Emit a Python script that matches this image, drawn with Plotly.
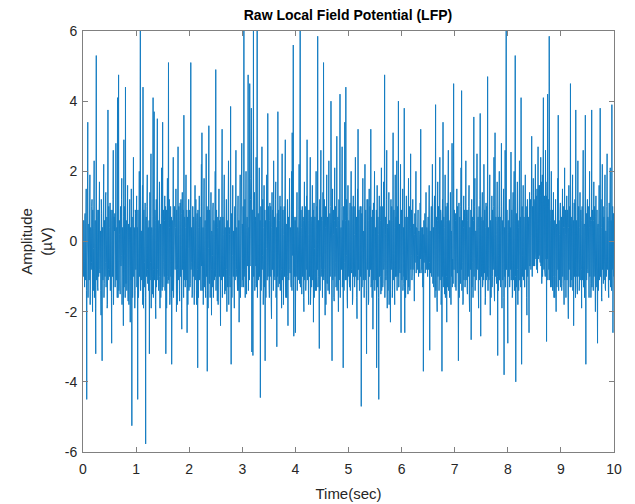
import plotly.graph_objects as go

fs = 200  # samples per second

amplitude_uV = [
    # 0 s
    .6,-1.0, -.9,.6, .2,-1.3, -1.3,.7, .8,-1.1, -.4,.4, 1.5,-1.4, -4.5,-.5, -.1,.9, 3.4,-1.6,
    -.8,.3, .5,-1.1, -.3,1.2, 1.9,-1.8, -1.1,.4, .3,-.8, -.6,1.0, 1.2,-.7, -2.0,.9, .4,-1.4,
    -.2,.7, 2.3,-1.6, -.7,.6, .6,-1.9, -3.2,.4, 5.3,-1.1, -1.0,.9, .1,-1.3, -1.4,.6, .9,-1.0,
    -.5,1.0, 1.7,-.8, -.9,.3, .3,-1.4, -2.1,1.2, .8,-1.8, -3.4,.4, .4,-1.1, -.2,.9, 2.2,-1.6,
    -1.2,.6, .2,-1.0, -.6,1.3, 1.4,-1.3, -.3,.3, .7,-1.9, -1.8,.7, 3.75,-1.1, -.8,1.0, .1,-.8,
    -1.0,.4, 1.1,-1.4, -.4,.9, .5,-1.6, -2.9,.6, .9,-1.0, -.7,1.2, 2.6,-1.8, -.2,.7, -1.3,.3,
    .8,-1.3, -.5,.7, 2.8,-1.1, -1.1,.4, .3,-1.6, 4.1,-.8, -1.6,1.0, 4.75,-1.4, -.9,.6, .2,-1.1,
    -1.5,.9, 1.0,-.7, -.4,1.2, 1.8,-1.8, -.9,.4, .1,-1.0, -2.4,.7, 2.9,-1.3, -.3,1.0, .6,-1.6,
    4.4,-.8, -1.2,.6, .3,-1.4, -.8,.9, 1.6,-1.1, -1.7,.3, .5,-1.8, -.2,1.0, 1.2,-1.0, -2.3,.4,
    .1,-1.1, 1.5,-.7, -5.25,.7, .4,-1.6, -.9,1.2, 2.4,-1.0, -.6,.4, .3,-1.9, -1.4,.9, .8,-.8,
    # 1 s
    -.3,.7, 1.3,-1.3, -.7,.4, -4.5,.9, .5,-1.6, -1.1,.6, 2.0,-1.0, -.4,1.0, 6.2,-1.4, -1.3,.3,
    .3,-1.1, -.8,.7, 1.6,-1.8, 4.4,-.7, -1.9,.9, .2,-1.3, -.6,.4, 1.1,-1.6, -5.77,.6, .7,-1.0,
    -.5,1.0, 1.9,-.8, -1.2,.3, .4,-1.4, -.2,.6, -3.2,.9, 1.4,-1.1, -.6,1.2, 2.5,-1.9, -1.0,.4,
    .2,-1.0, -1.5,.7, 4.1,-1.6, -.8,.6, 3.7,-1.1, -.3,.9, .6,-1.8, -2.2,.4, 1.2,-1.3, -.4,1.0,
    3.5,-.8, -1.1,.6, .3,-1.4, -.7,1.0, 1.7,-1.0, -1.9,.4, .5,-1.6, -.2,.7, 2.1,-1.1, -1.4,.3,
    3.4,-1.3, -.6,.9, .1,-.8, -1.0,.6, 1.3,-1.4, -.5,1.0, -3.2,.4, .9,-1.9, -.3,.7, 1.8,-1.0,
    -1.2,.6, 5.1,-1.1, -.7,1.2, .4,-1.8, -1.6,.3, 1.0,-1.0, -.4,.7, -3.5,.4, .6,-1.4, -.9,.9,
    2.4,-1.6, -.2,.6, -1.3,1.0, .7,-.8, -.6,.4, 1.5,-1.3, -2.0,.9, .3,-1.8, -.8,.7, 2.7,-1.1,
    -.5,1.0, .2,-1.4, -1.7,.6, 1.1,-1.0, -.3,1.2, .8,-1.9, -2.5,.4, 1.4,-.8, -.6,.9, .3,-1.6,
    3.6,-1.0, -1.1,.7, .5,-1.3, -.9,.4, 1.9,-1.1, -.4,.9, -2.6,.6, .7,-1.8, -.2,1.0, 1.2,-1.4,
    # 2 s
    -.4,.6, .9,-1.3, -1.2,.9, 5.1,-.8, -.6,.4, .2,-1.6, -1.5,1.0, 1.0,-1.0, -.3,.7, .5,-1.8,
    -1.0,.4, 1.6,-1.1, -.5,1.2, .3,-1.4, -1.8,.6, .8,-.8, -3.6,.9, .4,-1.6, -.2,.3, 1.3,-1.1,
    -.9,.7, .1,-1.0, -1.4,1.0, 2.2,-.7, 3.1,-1.4, -.7,.4, .4,-1.8, -1.1,.9, 1.8,-1.3, -.3,.6,
    .6,-1.4, -1.6,.4, 2.5,-1.0, -.5,1.0, -3.7,.7, .9,-1.9, -.2,.6, 3.3,-1.1, -1.2,.9, .4,-1.6,
    -.6,1.2, 1.4,-.8, -2.1,.3, .2,-1.3, -.4,.9, 1.1,-1.6, -1.3,.6, .5,-1.1, -.8,.7, 2.0,-1.0,
    4.9,-1.4, -.9,.9, .3,-.8, -1.7,.4, .7,-1.8, -.2,1.0, 1.5,-1.0, -1.0,.6, .1,-1.3, -2.4,.7,
    .6,-1.1, -.5,.4, 3.2,-1.6, -1.1,.7, .2,-1.0, -.7,1.2, 1.9,-.7, -1.5,.3, .4,-1.4, -.3,.9,
    1.2,-.8, -2.0,.6, .5,-1.3, -.6,1.0, 2.3,-1.8, -.9,.4, .2,-1.0, -1.3,.7, 3.85,-1.1, -3.5,.6,
    .8,-1.6, -.4,.9, 1.6,-.7, -1.0,.3, .3,-1.3, -1.9,.7, 1.0,-1.1, -.2,1.0, 2.6,-1.0, -.8,.4,
    .1,-1.1, -1.4,.7, 1.3,-1.4, -.5,.6, -2.3,.9, .7,-.8, 1.9,-1.6, -.6,.4, -1.0,1.0, 2.8,-1.3,
    # 3 s
    .5,-.8, -1.1,1.0, .3,-1.3, 6.2,-1.0, -.8,.6, 1.2,-1.6, -.4,.9, 2.0,-1.1, -1.5,.4, .7,-.7,
    -.2,.7, 4.75,-1.4, -1.0,.4, .4,-1.1, 4.5,-.7, -.6,1.2, 1.8,-1.6, 3.8,-.8, -3.15,.9, .9,-1.1,
    -3.25,.6, 6.1,-1.0, -.5,1.0, 1.4,-1.4, -1.2,.7, .6,-.7, 2.4,-1.3, -.3,.9, 6.2,-1.6, -1.4,.4,
    .8,-1.1, -.7,.7, 2.1,-1.0, -.2,.6, -4.45,.3, 1.0,-1.4, -.9,1.0, 2.7,-.8, -.4,1.2, .3,-1.8,
    -1.3,.4, 1.6,-1.3, -.6,.9, -3.4,.6, .5,-1.6, -.2,.7, 1.9,-1.1, -1.1,.3, 3.65,-1.0, -.5,1.0,
    .2,-1.3, -1.6,.6, 1.1,-1.0, -.4,1.0, .6,-1.8, -2.2,.4, 1.4,-.8, -.8,.9, .3,-1.4, 2.3,-.7,
    -1.0,.7, .5,-1.1, -.3,1.2, 1.7,-1.6, -1.4,.4, -3.0,.6, .8,-1.0, 3.7,-1.3, -.6,.9, .1,-.8,
    -1.2,.6, 1.3,-1.4, -.5,1.0, .4,-.8, -1.9,.3, 2.5,-1.1, -.7,.9, .2,-1.8, -1.1,.7, 1.0,-1.0,
    -.3,.9, 2.9,-1.3, -1.6,.4, .5,-1.6, -.2,.7, 1.2,-1.0, -2.4,.6, .7,-1.1, -.5,1.2, 1.8,-.8,
    -.9,.4, .3,-1.1, -1.3,.9, 2.0,-1.4, 3.1,-.7, -.4,1.0, 5.6,-1.3, -2.7,.7, .6,-1.0, -.8,.6,
    # 4 s
    -2.6,.7, .7,-1.0, -.3,1.0, 1.4,-1.4, -1.0,.4, .2,-1.1, -.6,.9, 2.2,-.8, -1.2,.6, 6.2,-1.3,
    -.9,.9, .4,-1.3, -1.5,.3, 1.0,-1.0, -.2,.7, .6,-1.6, -2.0,.6, 1.7,-1.1, -.5,1.0, .3,-1.4,
    -1.1,.4, 1.3,-.8, 2.9,-1.1, -.7,.9, .2,-1.4, -1.8,.6, .9,-1.0, -.4,1.2, 2.4,-1.8, -1.3,.7,
    .5,-1.3, -.3,.6, 1.6,-1.1, -.9,.9, -2.3,.4, 1.1,-1.6, -.2,.7, .7,-1.0, -1.4,.3, 2.0,-1.4,
    -.6,1.0, .3,-.8, 5.85,-1.3, -1.0,.6, .4,-1.1, -3.05,.9, 1.2,-1.4, -.5,.4, 2.6,-1.0, -.8,.7,
    .2,-1.6, -1.6,.6, 1.4,-1.0, 5.1,-1.1, -.7,1.2, .3,-.8, -2.1,.4, 1.0,-1.8, -.4,.9, 1.9,-1.1,
    -1.2,.7, .6,-1.4, -.3,.9, 2.3,-1.3, -1.5,.3, .8,-1.0, -.2,1.0, 4.0,-.7, -.9,.4, -3.4,.7,
    1.5,-1.1, -.4,.9, .2,-1.6, -1.7,.6, 2.1,-1.0, -.6,1.0, .5,-1.3, -1.1,.4, 3.0,-1.4, -.3,.7,
    .7,-1.0, -2.0,.6, 1.2,-1.1, -.5,1.2, 4.2,-1.6, -1.3,.3, .4,-.8, -.8,1.0, 2.7,-1.3, -.2,.6,
    -3.6,.4, 1.0,-1.4, -.6,.9, 3.4,-.8, -1.1,.6, 4.4,-1.1, -.4,1.2, .3,-1.6, -1.9,.7, 1.6,-1.0,
    # 5 s
    -.7,.6, .4,-1.1, -1.3,.9, 1.1,-1.4, -.2,.4, 2.0,-.8, -.9,1.0, .5,-1.8, -1.6,.3, 1.3,-1.0,
    -.4,1.0, .2,-1.3, -1.0,.6, 2.4,-1.0, -.6,.7, .7,-1.6, -2.2,.4, 1.5,-1.1, 3.2,-.8, -.8,.9,
    .3,-1.4, -1.4,.7, 1.0,-1.0, -.3,1.0, -4.7,.4, .8,-1.3, -.5,.9, 1.8,-.7, -1.1,.3, .2,-1.6,
    -.6,.7, 2.2,-1.1, -.9,.9, .4,-1.4, -3.2,.6, 1.2,-.8, -.3,1.2, .6,-1.8, -1.7,.4, 1.5,-1.0,
    -.5,1.0, .3,-.8, 3.2,-1.3, -1.2,.6, .7,-1.6, -.2,.9, -2.5,.3, 1.1,-1.1, -.7,.7, 2.0,-1.4,
    -1.0,.4, .4,-1.1, -.3,.9, -3.6,.6, 1.6,-1.3, -.5,.7, .2,-1.6, -4.5,.3, 1.3,-1.0, -.8,1.0,
    .6,-1.0, -1.5,.6, 2.1,-1.4, -.4,1.0, .3,-1.3, -1.2,.4, 1.7,-.8, -.6,.9, 4.75,-1.6, -1.0,.7,
    .2,-1.1, -.8,1.2, 2.6,-1.0, -1.9,.4, .5,-1.4, -.3,.7, 1.4,-1.8, -1.1,.6, .4,-1.1, -2.3,.9,
    1.2,-.8, -.5,1.0, .7,-1.6, -1.4,.6, 3.1,-1.1, -.7,.9, .3,-1.3, -1.8,.4, 1.9,-1.0, -.2,.7,
    -1.0,.6, 2.3,-1.4, -.6,1.0, .4,-1.0, 4.0,-1.3, -1.3,.4, .5,-.8, -.9,.9, 2.2,-1.1, -2.6,.6,
    # 6 s
    .9,-1.1, -.4,.9, 1.5,-1.4, -1.2,.4, .3,-1.0, 3.8,-1.3, -2.6,.7, .6,-1.6, -.3,.6, 1.3,-1.1,
    -.8,.7, .2,-1.0, -1.5,.6, 1.8,-1.3, -.5,1.0, .7,-1.4, -1.1,.4, 2.5,-.8, -.4,.9, .1,-1.1,
    -.9,.3, 1.2,-.8, -.3,.5, .5,-1.0, -1.7,.2, .8,-.6, -.2,.7, 2.0,-.9, -.6,.4, .3,-.8,
    -.4,.4, .9,-.8, -1.0,.3, .2,-.9, -.5,.5, 1.1,-.5, 3.2,-.9, -.7,.3, .4,-.8, -.2,.4,
    -1.3,.2, -3.7,.4, .6,-.6, -.3,.5, .8,-.9, -.6,.3, 1.4,-.8, -.4,.4, .2,-.9, -1.0,.3,
    .7,-.8, -.2,.4, 1.6,-.6, -3.1,.3, .3,-.9, -.8,.5, 1.0,-1.0, -.5,.7, 2.2,-.9, -1.2,.4,
    .4,-1.3, -.3,.9, 1.3,-1.1, -1.6,.4, 3.9,-1.4, -.7,.7, .5,-1.6, -2.0,.6, 1.7,-1.0, -.4,1.0,
    .2,-1.4, -1.1,.7, 2.4,-1.1, -.6,.9, .8,-1.8, -1.4,.6, -3.7,.4, 1.2,-1.0, 3.4,-1.3, -.9,.7,
    .3,-1.1, -1.5,.4, 1.9,-1.6, -.4,1.0, .6,-1.0, -2.3,.6, 1.1,-1.3, -.2,.9, 2.6,-1.4, -1.0,.6,
    .5,-1.6, -.7,.7, 1.4,-1.1, -1.8,.3, .2,-1.0, 2.8,-1.3, -.5,1.0, -1.2,.6, 4.5,-.8, -.8,.9,
    # 7 s
    .4,-1.1, -1.3,.6, .8,-1.4, -.2,.9, 1.5,-.8, -.9,1.0, .3,-1.3, -3.4,.4, 1.1,-1.6, -.5,.7,
    .2,-1.0, -1.2,1.0, 2.1,-.8, 4.3,-1.4, -.6,.6, .5,-1.8, -1.7,.4, 1.3,-1.1, -.3,.9, .7,-1.3,
    -1.0,.7, 2.3,-1.1, -.4,.9, .1,-1.4, -1.5,.6, .9,-1.0, -.7,1.0, 1.6,-1.6, -2.0,.4, .4,-.8,
    -.3,.9, -2.8,.4, 1.2,-1.3, -.6,.7, .5,-1.6, -1.1,.6, 3.55,-1.0, -.4,1.0, 1.8,-1.4, -1.3,.3,
    .3,-1.1, -.8,.9, 2.5,-.8, -.2,.6, .7,-1.4, -1.9,.4, 1.0,-1.1, -.5,1.2, 3.65,-1.6, -2.7,.7,
    .6,-1.0, -.3,.7, 1.4,-1.3, -1.2,.6, .2,-1.1, 2.2,-.8, -.9,.9, .4,-1.8, -1.6,.4, 1.1,-1.1,
    -.4,1.0, .8,-1.0, 4.7,-1.4, -1.4,.4, .3,-1.1, -.7,.9, 1.9,-.8, -2.1,.6, .5,-1.6, -.2,.7,
    1.3,-1.3, -1.0,.9, .6,-.8, -.5,1.0, 2.4,-1.4, -1.7,.3, 3.1,-1.0, -.3,.7, .2,-1.1, -1.2,.6,
    1.7,-1.0, -3.25,.4, .7,-1.4, -.4,.9, 2.0,-1.1, -1.1,.7, .3,-1.3, -.6,1.0, 2.8,-.8, -1.9,.6,
    .5,-1.1, -.8,.7, 1.5,-1.6, -3.8,.3, .4,-1.0, 2.6,-1.3, -1.3,.6, 6.2,-.8, -.7,.9, .2,-1.4,
    # 8 s
    -2.9,.6, .6,-1.0, -.4,1.0, 1.2,-1.3, -1.0,.4, .3,-.8, 2.55,-1.1, -.7,.9, .5,-1.6, -1.5,.7,
    1.4,-1.1, -.3,.9, 2.0,-1.4, -1.2,.6, 5.3,-1.0, -4.0,.4, .8,-1.3, -.5,1.0, 1.7,-.8, -1.8,.6,
    .4,-1.4, -.2,.9, 2.3,-1.1, -1.1,.7, .6,-1.3, 4.1,-.7, -3.5,.4, 1.0,-1.0, -.4,1.2, 1.6,-1.1,
    -.8,.7, .3,-1.3, -1.3,.9, 1.9,-.8, -.5,1.0, .7,-1.6, -2.1,.6, 1.2,-1.0, -.2,.7, .5,-1.1,
    -2.6,.9, 1.4,-.7, -.6,1.2, .9,-.8, -.3,1.3, 3.0,-.5, -1.0,1.0, .4,-.7, 1.8,-.3, -.7,1.2,
    1.1,-.7, -.2,1.4, 2.2,-.3, -.5,1.3, .8,-.8, 1.5,.4, -.9,1.2, 2.7,-.5, .2,1.6, -.4,.9,
    1.6,-.5, -.6,1.3, 2.4,-.7, .3,1.7, -1.2,.7, 1.9,-1.0, -.1,1.4, 4.1,-.5, -.8,1.0, 1.3,-.8,
    .4,-1.0, 2.6,.3, -.5,1.3, -2.85,.6, 1.7,-.5, 4.2,-1.1, -.3,1.2, 1.0,-.8, 5.85,-.7, -1.1,.9,
    .6,-1.3, -.4,.7, 2.0,-1.1, -1.3,.4, .9,-1.4, -.2,.9, 1.4,-1.0, -1.6,.6, .3,-1.6, -.7,.7,
    1.2,-1.0, -2.0,.4, .5,-1.3, -.3,1.0, 1.8,-.8, 3.6,-1.4, -1.4,.6, .2,-1.1, -.9,.9, 1.1,-1.3,
    # 9 s
    -.5,.7, .7,-1.4, -1.2,.6, 1.5,-1.0, -.3,1.0, .4,-1.3, -1.8,.4, 2.1,-1.1, -.6,.9, .2,-1.6,
    -1.0,.6, 1.3,-1.1, -.4,.9, .8,-1.6, -2.2,.4, 1.6,-.8, -.2,1.0, .5,-1.3, 4.5,-1.0, -1.3,.7,
    .3,-1.1, -.7,.9, 1.9,-1.4, -.5,.6, -2.4,.3, 1.1,-1.0, -.3,1.2, .6,-1.6, 3.75,-.8, -1.0,.6,
    .4,-1.3, -1.5,.7, 2.3,-1.0, -.2,1.0, .7,-1.4, -1.1,.4, 1.4,-1.1, -.6,.9, .2,-.8, -1.9,.6,
    1.0,-1.1, -.4,.9, 2.6,-1.3, -1.3,.4, .5,-1.6, -.8,.7, 3.6,-1.0, -3.5,.6, .8,-1.1, -.3,.9,
    1.2,-.8, -.9,1.0, .4,-1.4, -1.6,.4, 2.0,-1.0, -.2,.7, .6,-1.6, -1.2,.6, 3.75,-1.3, -.5,.9,
    .3,-1.1, -1.4,.6, 1.7,-1.0, -.7,1.0, .2,-1.4, -2.0,.7, 1.3,-1.3, -.4,.9, .9,-1.1, -2.9,.4,
    .5,-1.4, -.3,.7, 1.6,-1.1, -1.0,.6, 3.8,-1.0, -.6,1.2, .4,-1.6, -1.7,.4, 2.2,-.8, -.2,1.0,
    -1.2,.6, .7,-1.1, -.5,.9, 1.9,-1.3, -1.4,.3, .3,-1.0, -.8,1.0, 2.5,-.8, -.3,.7, .6,-1.4,
    -1.6,.4, 1.1,-1.1, -.4,.9, 2.1,-1.3, -1.0,.6, .5,-1.4, 3.9,-.8, -.7,1.0, -2.6,.6, .8,-1.0,
]

time_sec = [i / fs for i in range(len(amplitude_uV))]

x_ticks = list(range(0, 11))
y_ticks = [-6, -4, -2, 0, 2, 4, 6]

title_text = "Raw Local Field Potential (LFP)"
x_label = "Time(sec)"
y_label = "Amplitude<br>(µV)"

axis_color = "#262626"
frame_color = "#808080"
font_family = "Liberation Sans, Arial, Helvetica, sans-serif"

fig = go.Figure()
fig.add_trace(go.Scatter(
    x=time_sec, y=amplitude_uV, mode="lines",
    line=dict(color="#0072BD", width=1.0),
    opacity=0.92,
    hoverinfo="skip", showlegend=False,
))

axis_common = dict(
    showline=True, linecolor=frame_color, linewidth=1, mirror="ticks",
    ticks="inside", ticklen=5, tickcolor=frame_color, tickwidth=1,
    showgrid=False, zeroline=False, automargin=False,
    tickfont=dict(family=font_family, size=14, color=axis_color),
)

fig.update_layout(
    width=635, height=504,
    margin=dict(l=83, r=21, t=31, b=52),
    paper_bgcolor="white", plot_bgcolor="white",
    title=dict(text="<b>" + title_text + "</b>", x=0.548, xanchor="center",
               y=0.970, yanchor="middle", yref="container",
               font=dict(family=font_family, size=14, color="black")),
    xaxis=dict(range=[0, 10], tickvals=x_ticks, ticktext=[str(v) for v in x_ticks],
               ticklabelstandoff=4,
               title=dict(text=x_label, standoff=12,
                          font=dict(family=font_family, size=15, color=axis_color)),
               **axis_common),
    yaxis=dict(range=[-6, 6], tickvals=y_ticks, ticktext=[str(v) for v in y_ticks],
               ticklabelstandoff=2,
               title=dict(text=y_label, standoff=8,
                          font=dict(family=font_family, size=15, color=axis_color)),
               **axis_common),
)

fig.write_html(
    "out.html",
    config={"displayModeBar": False},
    post_script="document.body.style.margin='0';document.body.style.padding='0';",
)
